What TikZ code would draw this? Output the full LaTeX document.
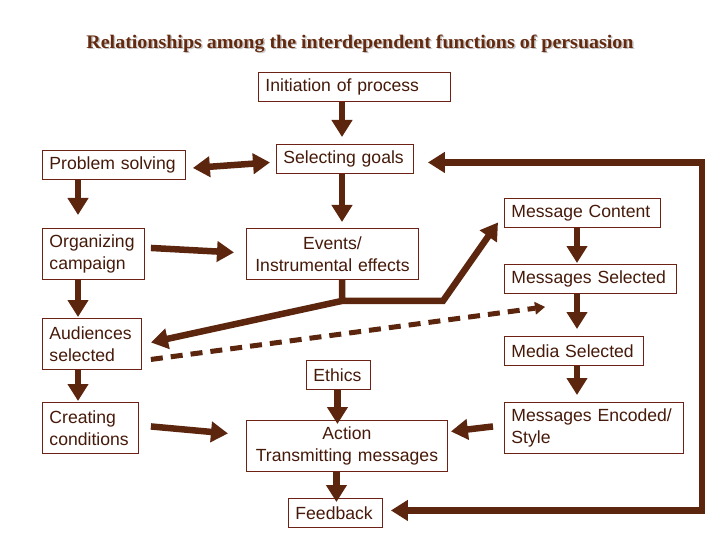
\documentclass[tikz,border=0pt]{standalone}
\usepackage{fontspec}
\setmainfont{Liberation Sans}
\newfontfamily\titlefont{Liberation Serif}
\usetikzlibrary{arrows.meta,calc}
\definecolor{arrc}{RGB}{92,38,14}
\definecolor{boxc}{RGB}{110,34,22}
\definecolor{txtc}{RGB}{70,26,10}
\definecolor{titc}{RGB}{100,42,16}
\newcommand{\titletext}{\titlefont\bfseries Relationships among the interdependent functions of persuasion}
\begin{document}
\begin{tikzpicture}[x=1pt,y=-1pt,
  box/.style={draw=boxc, line width=0.9pt, text=txtc, font=\fontsize{17.6}{22}\selectfont,
    inner xsep=7pt, inner ysep=0pt, anchor=north west, align=left},
  cbox/.style={box, align=center},
  fat/.style={draw=arrc, line width=6.5pt, -{Triangle[length=17pt,width=20pt]}},
  fatboth/.style={draw=arrc, line width=6.5pt, {Triangle[length=17pt,width=20pt]}-{Triangle[length=17pt,width=20pt]}},
  dashline/.style={draw=arrc, line width=5pt, dash pattern=on 12pt off 8pt, -{Triangle[length=10pt,width=13pt,line width=0pt]}}]
\useasboundingbox[fill=white] (0,0) rectangle (720,540);

% title with shadow
\node[text=gray!45] at (361.5,45) {\resizebox{547pt}{13.5pt}{\titletext}};
\node[text=titc] (title) at (360,43.5) {\resizebox{547pt}{13.5pt}{\titletext}};

% boxes
\node[box, text width=178pt, minimum height=29pt] (init) at (258,72) {Initiation of process};
\node[box, text width=129pt, minimum height=29pt] (prob) at (42,150) {Problem solving};
\node[box, text width=123pt, minimum height=29pt] (sg) at (276,144) {Selecting goals};
\node[box, text width=142pt, minimum height=29pt] (mc) at (504,198) {Message Content};
\node[box, text width=88pt, minimum height=51pt] (org) at (42,228) {Organizing\\campaign};
\node[cbox, text width=158pt, minimum height=51pt] (ev) at (246,228) {Events/\\Instrumental effects};
\node[box, text width=158pt, minimum height=29pt] (ms) at (504,264) {Messages Selected};
\node[box, text width=85pt, minimum height=51pt] (aud) at (42,318) {Audiences\\selected};
\node[box, text width=125pt, minimum height=29pt] (media) at (504,336) {Media Selected};
\node[box, text width=50pt, minimum height=29pt] (eth) at (306,360) {Ethics};
\node[box, text width=82pt, minimum height=51pt] (cre) at (42,402) {Creating\\conditions};
\node[cbox, text width=187pt, minimum height=51pt] (act) at (246,420) {Action\\Transmitting messages};
\node[box, text width=165pt, minimum height=51pt] (enc) at (504,402) {Messages Encoded/\\Style};
\node[box, text width=80pt, minimum height=29pt] (fb) at (288,498) {Feedback};

% columns
\coordinate (cx) at (342,0);
\coordinate (lx) at (78,0);
\coordinate (rx) at (577,0);
\coordinate (loopx) at (702,0);

% vertical arrows
\draw[fat, shorten >=7pt] (cx |- init.south) -- (cx |- sg.north);
\draw[fat, shorten >=6pt] (cx |- sg.south) -- (cx |- ev.north);
\draw[fat, shorten >=13pt] (lx |- prob.south) -- (lx |- org.north);
\draw[fat, shorten >=1pt] (lx |- org.south) -- (lx |- aud.north);
\draw[fat, shorten >=1pt] (lx |- aud.south) -- (lx |- cre.north);
\draw[fat, shorten >=-4pt] ($(eth.south)+(-1,0)$) -- ($(eth.south |- act.north)+(-1,0)$);
\draw[fat, shorten >=-4pt] ($(fb.north |- act.south)+(1,0)$) -- ($(fb.north)+(1,0)$);
\draw[fat, shorten >=1pt] (rx |- mc.south) -- (rx |- ms.north);
\draw[fat, shorten >=7pt] (rx |- ms.south) -- (rx |- media.north);
\draw[fat, shorten >=7pt] (rx |- media.south) -- (rx |- enc.north);

% horizontal / diagonal arrows
\draw[fatboth] ($(prob.east)+(7,3)$) -- ($(sg.west)+(-6,3.5)$);
\draw[fat] ($(org.east)+(6,-6)$) -- ($(ev.west)+(-12,-1.5)$);
\draw[fat] (cx |- ev.south) -- ++(0,21) coordinate (corner) -- ++(101,0) -- ($(mc.west)+(-6,9.5)$);
\draw[fat] (corner) -- ($(aud.east)+(9,-1.5)$);
\draw[dashline] ($(aud.east)+(9,15.5)$) -- ($(ms.south west)+(41,13)$);
\draw[fat] ($(cre.east)+(12,-1.5)$) -- ($(act.west)+(-18,-12.5)$);
\draw[fat] ($(enc.west)+(-11,-1.5)$) -- ($(act.east)+(3,-14.5)$);

% feedback loop
\coordinate (lb) at ($(fb.east)+(8,-2.5)$);
\coordinate (lt) at ($(sg.east)+(14,3.5)$);
\draw[fatboth] (lb) -- (loopx |- lb) -- (loopx |- lt) -- (lt);
\end{tikzpicture}
\end{document}
